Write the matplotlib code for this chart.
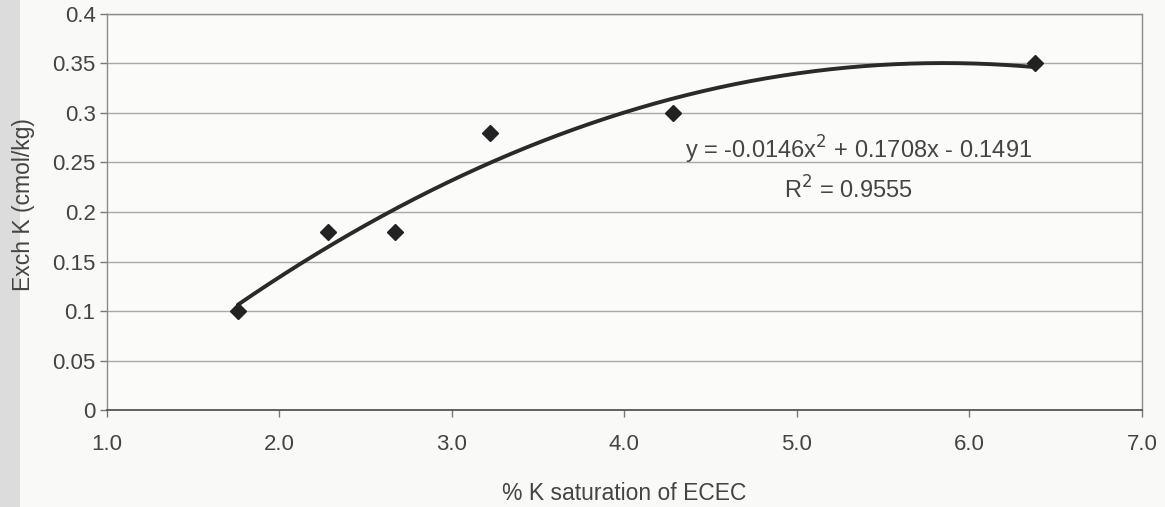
import numpy as np
import matplotlib
matplotlib.use("Agg")
import matplotlib.pyplot as plt
from matplotlib.ticker import FixedLocator

# Data
k_saturation = [1.76, 2.28, 2.67, 3.22, 4.28, 6.38]
exch_k = [0.10, 0.18, 0.18, 0.28, 0.30, 0.35]

# Trendline coefficients printed on the chart
coef_a, coef_b, coef_c = -0.0146, 0.1708, -0.1491
r_squared = 0.9555

x_ticks = [1.0, 2.0, 3.0, 4.0, 5.0, 6.0, 7.0]
x_tick_labels = ["1.0", "2.0", "3.0", "4.0", "5.0", "6.0", "7.0"]
y_ticks = [0, 0.05, 0.1, 0.15, 0.2, 0.25, 0.3, 0.35, 0.4]
y_tick_labels = ["0", "0.05", "0.1", "0.15", "0.2", "0.25", "0.3", "0.35", "0.4"]

plt.rcParams['font.family'] = ['Liberation Sans', 'DejaVu Sans']

fig = plt.figure(figsize=(11.65, 5.07), dpi=100, facecolor='#f9f9f7')
# scanned-page shading strip at left (drawn behind everything)
strip = plt.Rectangle((0, 0), 0.017, 1, transform=fig.transFigure,
                      facecolor='#dcdcdc', edgecolor='none', zorder=-10)
fig.patches.append(strip)
ax = fig.add_axes([0.0916, 0.1913, 0.8885, 0.7811])
ax.set_facecolor('#fbfbfa')

ax.set_xlim(1.0, 7.0)
ax.set_ylim(0, 0.4)
ax.xaxis.set_major_locator(FixedLocator(x_ticks))
ax.yaxis.set_major_locator(FixedLocator(y_ticks))
ax.set_xticklabels(x_tick_labels)
ax.set_yticklabels(y_tick_labels)

ax.grid(axis='y', color='#a8a8a8', linewidth=1.0)
ax.set_axisbelow(True)
for s in ax.spines.values():
    s.set_color('#8a8a8a')
    s.set_linewidth(1.0)
ax.spines['bottom'].set_color('#555555')
ax.spines['bottom'].set_linewidth(1.3)

ax.tick_params(axis='both', colors='#777777', labelcolor='#444444', labelsize=16, length=5, width=1)
ax.tick_params(axis='x', pad=12)
ax.tick_params(axis='y', pad=3)

# trendline
xs = np.linspace(min(k_saturation), max(k_saturation), 200)
ys = coef_a * xs**2 + coef_b * xs + coef_c
ax.plot(xs, ys, color='#2a2a2a', linewidth=2.8, solid_capstyle='round', zorder=3)

ax.plot(k_saturation, exch_k, linestyle='none', marker='D', markersize=8,
        color='#222222', zorder=4)

ax.text(5.36, 0.2626, r"y = -0.0146x$^2$ + 0.1708x - 0.1491",
        ha='center', va='center', fontsize=17, color='#444444')
ax.text(5.30, 0.222, r"R$^2$ = %.4f" % r_squared,
        ha='center', va='center', fontsize=17, color='#444444')

ax.set_ylabel("Exch K (cmol/kg)", fontsize=16.5, color='#444444', va='center')
ax.set_xlabel("% K saturation of ECEC", fontsize=16.5, color='#444444', va='center')
ax.yaxis.set_label_coords(-0.080, 0.52)
ax.xaxis.set_label_coords(0.50, -0.212)

fig.savefig("out.png", dpi=100, facecolor=fig.get_facecolor())
